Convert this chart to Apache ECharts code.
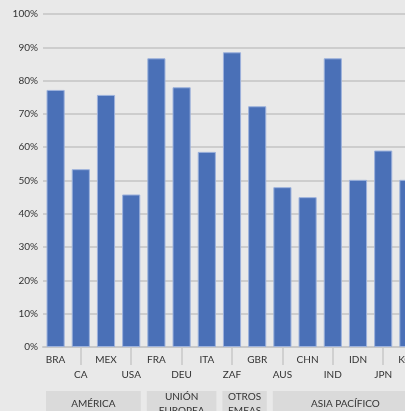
<!DOCTYPE html>
<html><head><meta charset="utf-8">
<script src="https://cdn.jsdelivr.net/npm/echarts@6/dist/echarts.min.js"></script>
<style>
html,body{margin:0;padding:0;background:#e9e9e9;overflow:hidden;width:405px;height:411px;}
#c{width:430px;height:411px;}
</style></head>
<body><div id="c"></div>
<script>
const categories = ['BRA','CA','MEX','USA','FRA','DEU','ITA','ZAF','GBR','AUS','CHN','IND','IDN','JPN','KOR'];
const values = [77.2, 53.4, 75.7, 45.8, 86.7, 78, 58.6, 88.5, 72.3, 48, 45, 86.7, 50.2, 59, 50.2];
const groupNames = ['AMÉRICA', 'UNIÓN\nEUROPEA', 'OTROS\nEMEAS', 'ASIA PACÍFICO'];
const groupStart = [0, 4, 7, 9];
const groupEnd = [3, 6, 8, 14];

const FONT = 'Lato';
const chart = echarts.init(document.getElementById('c'), null, {renderer:'canvas'});
chart.setOption({
  backgroundColor: '#e9e9e9',
  animation: false,
  grid: {left: 43, right: 9, top: 14, bottom: 64},
  xAxis: [{
    type: 'category', data: categories,
    axisLine: {lineStyle: {color: '#c8c8c8', width: 2}},
    axisTick: {alignWithLabel: true, length: 5, interval: 0, lineStyle: {color: '#c8c8c8', width: 1.5}},
    axisLabel: {interval: 0, margin: 5, color: '#333', fontFamily: FONT, fontSize: 10, lineHeight: 15,
      formatter: (v, i) => (i % 2 === 1 ? '\n' + v : v)}
  }, {
    type: 'category', data: categories, position: 'bottom', offset: 0,
    axisLine: {show: true, lineStyle: {color: 'rgba(0,0,0,0)', width: 0}},
    axisTick: {show: true, alignWithLabel: true, length: 18, interval: (i) => i % 2 === 1, lineStyle: {color: '#c8c8c8', width: 1.5}},
    axisLabel: {show: true, interval: 0, color: 'rgba(0,0,0,0)', fontSize: 1, formatter: () => ''}
  }],
  yAxis: {
    type: 'value', min: 0, max: 100, interval: 10,
    axisLine: {show: false}, axisTick: {show: false},
    axisLabel: {formatter: '{value}%', color: '#333', fontFamily: FONT, fontSize: 10, margin: 5},
    splitLine: {lineStyle: {color: '#cdcdcd', width: 2}}
  },
  series: [{
    type: 'bar', data: values, xAxisIndex: 0, barCategoryGap: '28%',
    itemStyle: {color: '#4a70b7', borderColor: '#9db2dc', borderWidth: 1}
  }, {
    type: 'custom', xAxisIndex: 1, clip: false, silent: true,
    data: groupNames.map((n, i) => [groupStart[i], 0]),
    renderItem: (params, api) => {
      const i = params.dataIndex;
      const band = api.size([1, 0])[0];
      const p0 = api.coord([groupStart[i], 0]);
      const p1 = api.coord([groupEnd[i], 0]);
      const x0 = p0[0] - band / 2 + 3;
      const x1 = p1[0] + band / 2 - 3;
      const y0 = p0[1] + 44;
      return {
        type: 'group',
        children: [{
          type: 'rect', shape: {x: x0, y: y0, width: x1 - x0, height: 26},
          style: {fill: '#dadada'}
        }, {
          type: 'text',
          style: {text: groupNames[i], x: (x0 + x1) / 2, y: y0 + 13, align: 'center', verticalAlign: 'middle',
            fill: '#333', font: '10px ' + FONT, lineHeight: 14}
        }]
      };
    }
  }]
});
</script></body></html>
